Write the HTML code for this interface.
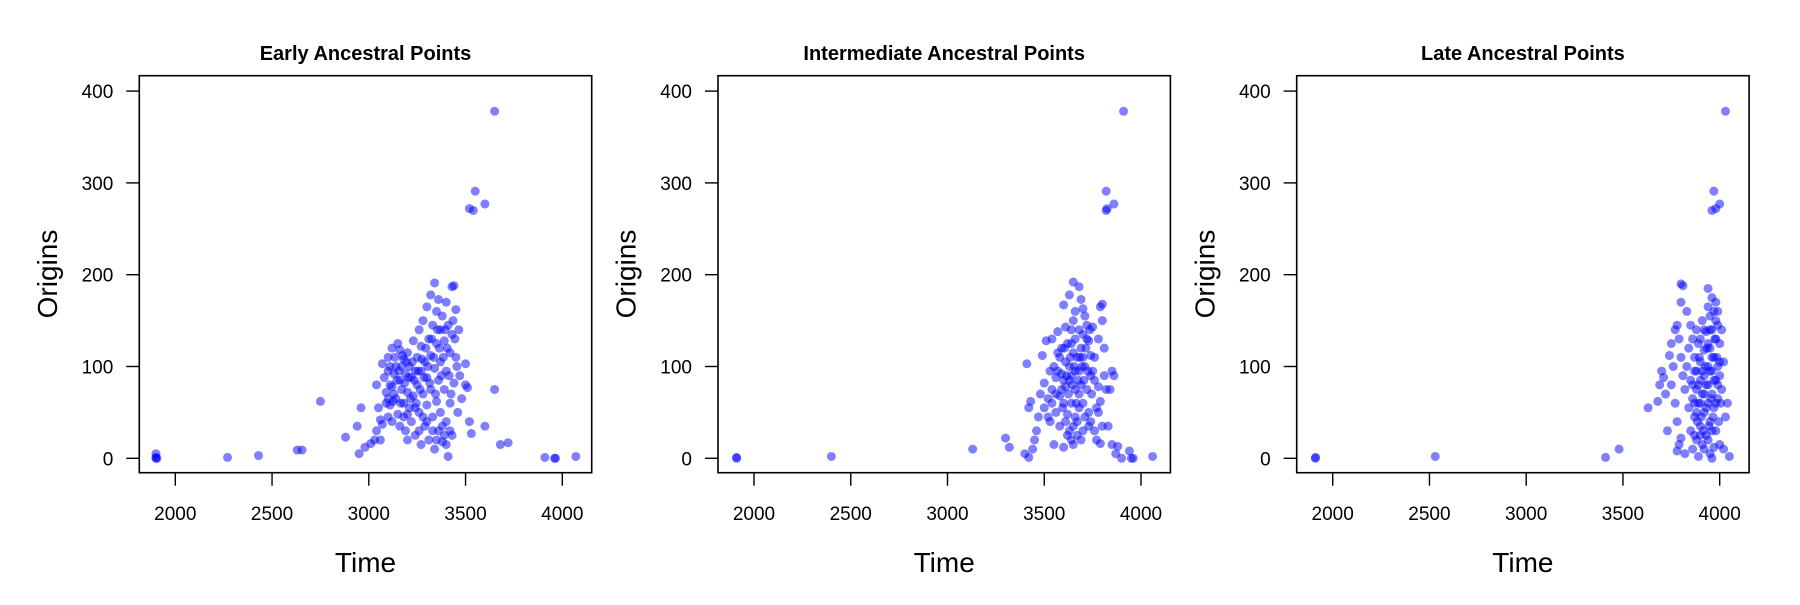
<!DOCTYPE html>
<html><head><meta charset="utf-8"><style>
html,body{margin:0;padding:0;background:#fff;}
svg text{font-family:"Liberation Sans",Arial,sans-serif;fill:#000;}
</style></head><body>
<svg id="chart" width="1800" height="600" viewBox="0 0 1800 600" xmlns="http://www.w3.org/2000/svg"></svg>
<script>
const panelTitles = ["Early Ancestral Points","Intermediate Ancestral Points","Late Ancestral Points"];
const xTicks = [2000,2500,3000,3500,4000];
const yTicks = [0,100,200,300,400];
const earlyPoints = [[1900,5],[1900,1],[1900,0],[1905,0],[2270,1],[2430,3],[2630,9],[2655,9],[2750,62],[2880,23],[2940,35],[2960,55],[2950,5],[2980,12],[3010,16],[3030,20],[3040,30],[3060,42],[3060,20],[3070,37],[3040,80],[3050,55],[3070,103],[3080,88],[3090,72],[3100,65],[3100,110],[3110,80],[3110,58],[3120,120],[3130,92],[3130,70],[3140,100],[3140,65],[3150,125],[3150,48],[3160,118],[3160,85],[3170,75],[3170,100],[3180,108],[3180,60],[3190,92],[3190,30],[3200,115],[3200,72],[3200,20],[3210,100],[3210,55],[3220,88],[3220,40],[3230,128],[3230,68],[3240,95],[3240,25],[3250,110],[3250,80],[3260,140],[3260,50],[3270,122],[3270,95],[3270,15],[3280,150],[3280,70],[3290,105],[3290,35],[3300,165],[3300,88],[3300,58],[3310,130],[3310,20],[3320,178],[3320,112],[3320,75],[3330,145],[3330,45],[3340,191],[3340,98],[3340,10],[3350,160],[3350,125],[3350,62],[3360,173],[3360,85],[3360,30],[3370,140],[3370,105],[3370,50],[3380,155],[3380,18],[3390,128],[3390,75],[3400,170],[3400,95],[3400,40],[3410,145],[3410,2],[3420,115],[3420,60],[3430,187],[3430,135],[3430,25],[3440,188],[3440,82],[3450,162],[3450,110],[3460,50],[3480,65],[3500,103],[3500,80],[3510,77],[3520,40],[3530,27],[3550,291],[3520,272],[3540,270],[3600,277],[3650,378],[3650,75],[3600,35],[3680,15],[3720,17],[3910,1],[3960,0],[3965,0],[4070,2],
[3090,60],[3100,95],[3110,100],[3120,78],[3125,62],[3135,110],[3145,85],[3155,95],[3165,60],[3175,112],[3185,82],[3195,105],[3205,88],[3215,65],[3225,105],[3235,85],[3245,60],[3255,95],[3265,75],[3275,108],[3285,88],[3295,120],[3305,100],[3315,82],[3325,130],[3335,110],[3345,70],[3355,140],[3365,120],[3375,90],[3385,110],[3395,140],[3405,120],[3415,90],[3425,70],[3435,150],[3445,130],[3455,100],[3465,140],[3470,90],[3380,35],[3390,25],[3400,15],[3420,30],[3350,20],[3330,30],[3300,40],[3280,45],[3260,30],[3240,55],[3200,48],[3180,45],[3160,35],[3120,40],[3100,45]];
const intermediatePoints = [[1910,1],[1910,0],[2400,2],[3130,10],[3300,22],[3320,12],[3400,5],[3420,1],[3440,10],[3460,30],[3410,103],[3420,55],[3430,62],[3450,20],[3470,45],[3480,70],[3490,112],[3500,82],[3500,55],[3510,128],[3520,65],[3530,95],[3530,40],[3540,130],[3540,75],[3550,100],[3550,15],[3560,50],[3560,88],[3570,138],[3570,115],[3580,68],[3580,35],[3590,120],[3590,92],[3600,167],[3600,60],[3600,12],[3610,143],[3610,105],[3610,78],[3620,125],[3620,48],[3620,25],[3630,178],[3630,100],[3630,85],[3640,90],[3640,60],[3640,20],[3650,192],[3650,150],[3650,115],[3650,35],[3660,130],[3660,75],[3660,45],[3670,110],[3670,25],[3680,187],[3680,140],[3680,95],[3680,55],[3690,173],[3690,120],[3690,80],[3700,163],[3700,135],[3700,60],[3700,30],[3710,155],[3710,100],[3720,145],[3720,75],[3730,128],[3730,50],[3740,112],[3740,40],[3750,143],[3750,95],[3760,85],[3760,30],[3770,55],[3770,20],[3780,130],[3780,78],[3790,165],[3790,62],[3790,16],[3800,168],[3800,150],[3800,35],[3810,120],[3810,90],[3820,291],[3820,270],[3825,272],[3860,277],[3910,378],[3820,75],[3840,75],[3850,95],[3860,90],[3830,35],[3850,15],[3870,5],[3880,13],[3900,0],[3940,8],[3950,0],[3960,0],[4060,2],
[3560,70],[3570,95],[3580,110],[3590,75],[3595,55],[3605,120],[3615,90],[3625,70],[3635,110],[3645,80],[3655,100],[3665,60],[3675,85],[3685,110],[3695,100],[3705,85],[3715,120],[3725,95],[3735,140],[3745,70],[3610,40],[3630,30],[3650,15],[3670,40],[3690,20],[3710,45],[3730,35],[3600,85],[3640,125],[3660,95],[3680,70],[3700,110],[3720,130],[3740,90],[3760,110],[3780,50],[3540,60],[3520,45],[3640,140],[3660,160]];
const latePoints = [[1910,0],[1912,1],[2530,2],[3410,1],[3480,10],[3630,55],[3680,62],[3690,80],[3700,95],[3710,88],[3720,70],[3730,30],[3740,112],[3750,125],[3750,80],[3760,100],[3770,140],[3770,60],[3780,145],[3780,40],[3780,8],[3790,130],[3790,15],[3800,190],[3800,170],[3800,110],[3800,22],[3810,188],[3810,90],[3820,75],[3820,5],[3830,160],[3830,100],[3840,120],[3840,55],[3850,145],[3850,85],[3850,30],[3860,130],[3860,65],[3860,10],[3870,110],[3870,95],[3870,45],[3880,140],[3880,75],[3880,20],[3890,125],[3890,60],[3890,2],[3900,105],[3900,85],[3900,35],[3910,150],[3910,70],[3910,15],[3920,118],[3920,90],[3920,50],[3930,138],[3930,80],[3930,25],[3940,185],[3940,165],[3940,100],[3940,60],[3950,155],[3950,120],[3950,40],[3950,5],[3960,175],[3960,140],[3960,95],[3960,70],[3960,0],[3970,160],[3970,110],[3970,55],[3970,12],[3980,170],[3980,130],[3980,85],[3980,30],[3990,145],[3990,100],[3990,65],[4000,125],[4000,90],[4000,15],[4010,140],[4010,75],[4020,105],[4020,10],[4030,45],[4040,60],[4050,2],[3970,291],[3960,270],[3980,272],[4000,277],[4030,378],
[3860,80],[3870,60],[3880,95],[3885,40],[3890,80],[3895,110],[3900,60],[3905,45],[3910,95],[3915,30],[3920,70],[3925,100],[3930,55],[3935,120],[3940,80],[3945,35],[3950,95],[3955,65],[3960,110],[3965,45],[3970,85],[3975,130],[3980,60],[3985,110],[3990,80],[3995,40],[4000,105],[4005,60],[3880,50],[3900,25],[3920,10],[3940,20],[3960,30],[3900,130],[3920,140],[3950,140],[3980,150],[3990,160],[3870,25],[3940,125]];
const panelData = [earlyPoints, intermediatePoints, latePoints];

const NS = "http://www.w3.org/2000/svg";
const svg = document.getElementById('chart');
function mk(tag, attrs, parent){ const e=document.createElementNS(NS,tag); for(const k in attrs) e.setAttribute(k,attrs[k]); parent.appendChild(e); return e; }
const PANEL_DX = 578.7, BOX_L = 139.3, BOX_R = 591.7, BOX_T = 75.7, BOX_B = 472.7;
function xScale(t, off){ return 175.3 + off + (t - 2000) * 0.1935; }
function yScale(o){ return 458.3 - o * 0.918; }

panelData.forEach((pts, i) => {
  const off = i * PANEL_DX;
  const g = mk('g', {}, svg);
  
  
  const title = mk('text', {x: (BOX_L+BOX_R)/2+off, y: 60, 'text-anchor':'middle', 'font-size':20, 'font-weight':'bold'}, g);
  title.textContent = panelTitles[i];
  
  
  const pg = mk('g', {}, g);
  
  
  pts.forEach(p => {
    const c = mk('circle', {cx: xScale(p[0], off), cy: yScale(p[1]), r: 4.5, fill: 'rgba(0,0,255,0.5)'}, pg);
    
    
  });
  const box = mk('rect', {x: BOX_L+off, y: BOX_T, width: BOX_R-BOX_L, height: BOX_B-BOX_T, fill:'none', stroke:'#000', 'stroke-width':1.6}, g);
  
  
  xTicks.forEach(t => {
    const x = xScale(t, off);
    const tk = mk('line', {x1:x, x2:x, y1:BOX_B, y2:BOX_B+13, stroke:'#000', 'stroke-width':1.4}, g);
    
    
    const lb = mk('text', {x:x, y:520, 'text-anchor':'middle', 'font-size':19}, g);
    lb.textContent = t;
    
    
  });
  yTicks.forEach(v => {
    const y = yScale(v);
    const tk = mk('line', {x1:BOX_L+off-13, x2:BOX_L+off, y1:y, y2:y, stroke:'#000', 'stroke-width':1.4}, g);
    
    
    const lb = mk('text', {x:BOX_L+off-26, y:y+7, 'text-anchor':'end', 'font-size':19}, g);
    lb.textContent = v;
    
    
  });
  const xt = mk('text', {x:(BOX_L+BOX_R)/2+off, y:572, 'text-anchor':'middle', 'font-size':28}, g);
  xt.textContent = 'Time';
  
  
  const yt = mk('text', {x:0, y:0, 'text-anchor':'middle', 'font-size':28, transform:`translate(${57+off},274) rotate(-90)`}, g);
  yt.textContent = 'Origins';
  
  
});
</script>
</body></html>
